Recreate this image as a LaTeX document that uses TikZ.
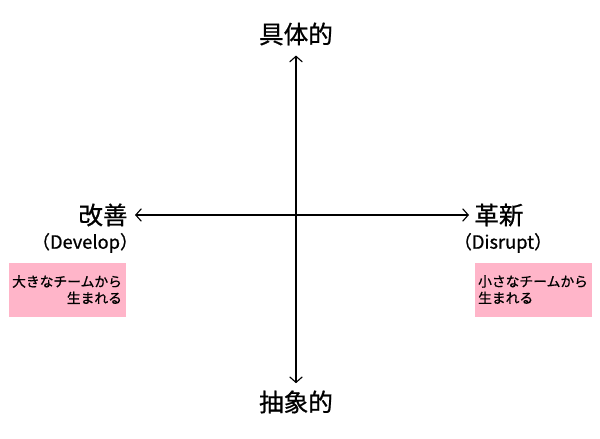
\documentclass[tikz,border=0pt]{standalone}
\usepackage{fontspec}
\setmainfont{Noto Sans CJK JP}
\newfontfamily\labelfont{Noto Sans CJK JP}[FakeBold=0.8]
\usetikzlibrary{arrows.meta,positioning}
\definecolor{boxpink}{HTML}{FFB5C9}

\tikzset{
  axislabel/.style = {font = \labelfont\fontsize{17.5}{20}\selectfont, inner sep = 2pt},
  engl/.style = {font = \labelfont\fontsize{13}{15}\selectfont, inner sep = 0pt},
  teambox/.style = {fill = boxpink, minimum width = 117*0.025cm, minimum height = 54*0.025cm,
    font = \labelfont\fontsize{9.8}{11.8}\selectfont, inner xsep = 2.5pt, anchor = north west}
}

\begin{document}
\begin{tikzpicture}[x=0.025cm,y=-0.025cm,<->,>={Straight Barb[length=4pt,width=9pt]},line width=0.8pt]
  \useasboundingbox (0,0) rectangle (600,439);
  % axis labels
  \node[axislabel] (gu) at (296,34) {具体的};
  \node[axislabel] (chu) at (296,402) {抽象的};
  \node[axislabel, anchor = east] (kai) at (131,215) {改善};
  \node[axislabel, anchor = west] (kaku) at (471,215) {革新};
  \node[engl] (dev) at (85,243) {（Develop）};
  \node[engl] (dis) at (503,243) {（Disrupt）};
  % team boxes
  \node[teambox, align = right] (big) at (8,262) {大きなチームから\\生まれる};
  \node[teambox, align = left] (small) at (474,262) {小さなチームから\\生まれる};
  % axes
  \draw[shorten <= 0.17cm, shorten >= 0.1cm] (gu) -- (chu);
  \draw[shorten <= 0.1cm, shorten >= 0.05cm] (kai) -- (kaku);
\end{tikzpicture}
\end{document}
